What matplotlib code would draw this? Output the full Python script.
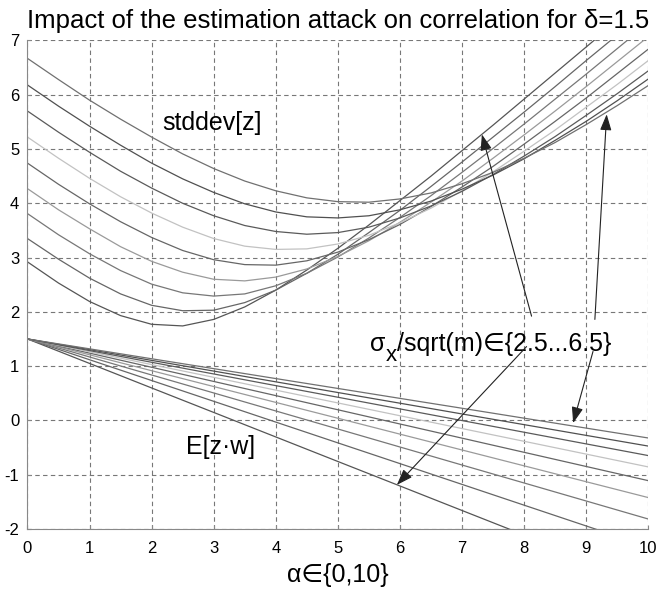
import matplotlib
matplotlib.use('Agg')
import matplotlib.pyplot as plt

plt.rcParams['font.family'] = ['Liberation Sans', 'DejaVu Sans']
plt.rcParams['axes.unicode_minus'] = False

# alpha grid for the stddev curves and for the correlation lines
alpha_sd = [0, 0.5, 1, 1.5, 2, 2.5, 3, 3.5, 4, 4.5, 5, 5.5, 6, 6.5, 7, 7.5, 8, 8.5, 9, 9.5, 10]
alpha_e = [0, 1, 2, 3, 4, 5, 6, 7, 8, 9, 10]

sigmas = [2.5, 3.0, 3.5, 4.0, 4.5, 5.0, 5.5, 6.0, 6.5]

# stddev[z] per sigma_x/sqrt(m)
sd_25 = [2.92, 2.53, 2.19, 1.93, 1.77, 1.74, 1.86, 2.09, 2.40, 2.77, 3.17, 3.60, 4.05, 4.50, 4.97, 5.44, 5.92, 6.40, 6.88, 7.36, 7.85]
sd_30 = [3.35, 2.97, 2.62, 2.33, 2.12, 2.02, 2.03, 2.17, 2.40, 2.71, 3.06, 3.46, 3.87, 4.31, 4.76, 5.22, 5.68, 6.15, 6.63, 7.10, 7.58]
sd_35 = [3.81, 3.42, 3.07, 2.76, 2.51, 2.35, 2.29, 2.33, 2.48, 2.71, 3.01, 3.36, 3.74, 4.14, 4.57, 5.01, 5.46, 5.92, 6.38, 6.85, 7.32]
sd_40 = [4.27, 3.88, 3.53, 3.20, 2.93, 2.73, 2.60, 2.57, 2.64, 2.79, 3.02, 3.31, 3.65, 4.02, 4.41, 4.83, 5.26, 5.70, 6.15, 6.61, 7.07]
sd_45 = [4.74, 4.35, 3.99, 3.66, 3.37, 3.13, 2.96, 2.87, 2.86, 2.94, 3.10, 3.33, 3.61, 3.94, 4.30, 4.68, 5.09, 5.51, 5.94, 6.39, 6.84]
sd_50 = [5.22, 4.83, 4.46, 4.12, 3.82, 3.56, 3.35, 3.21, 3.15, 3.16, 3.25, 3.41, 3.64, 3.91, 4.23, 4.58, 4.96, 5.35, 5.77, 6.19, 6.63]
sd_55 = [5.70, 5.31, 4.94, 4.59, 4.28, 4.00, 3.77, 3.59, 3.48, 3.43, 3.46, 3.56, 3.73, 3.95, 4.22, 4.53, 4.87, 5.23, 5.62, 6.02, 6.44]
sd_60 = [6.18, 5.79, 5.42, 5.07, 4.74, 4.45, 4.20, 3.99, 3.84, 3.75, 3.73, 3.77, 3.88, 4.04, 4.26, 4.52, 4.82, 5.16, 5.51, 5.89, 6.29]
sd_65 = [6.67, 6.28, 5.90, 5.55, 5.22, 4.91, 4.64, 4.41, 4.23, 4.10, 4.03, 4.02, 4.08, 4.19, 4.36, 4.57, 4.83, 5.12, 5.45, 5.80, 6.17]

# E[z.w] per sigma_x/sqrt(m)
e_25 = [1.5, 1.049, 0.597, 0.146, -0.306, -0.758, -1.209, -1.661, -2.112, -2.564, -3.015]
e_30 = [1.5, 1.117, 0.734, 0.351, -0.032, -0.415, -0.797, -1.180, -1.563, -1.946, -2.329]
e_35 = [1.5, 1.168, 0.836, 0.505, 0.173, -0.159, -0.491, -0.823, -1.154, -1.486, -1.818]
e_40 = [1.5, 1.208, 0.915, 0.623, 0.331, 0.039, -0.254, -0.546, -0.838, -1.131, -1.423]
e_45 = [1.5, 1.239, 0.978, 0.717, 0.456, 0.195, -0.067, -0.328, -0.589, -0.850, -1.111]
e_50 = [1.5, 1.264, 1.028, 0.793, 0.557, 0.321, 0.085, -0.151, -0.386, -0.622, -0.858]
e_55 = [1.5, 1.285, 1.070, 0.855, 0.640, 0.426, 0.211, -0.004, -0.219, -0.434, -0.649]
e_60 = [1.5, 1.303, 1.105, 0.908, 0.710, 0.513, 0.316, 0.118, -0.079, -0.277, -0.474]
e_65 = [1.5, 1.318, 1.135, 0.953, 0.770, 0.588, 0.405, 0.223, 0.040, -0.143, -0.325]

sd_curves = [sd_25, sd_30, sd_35, sd_40, sd_45, sd_50, sd_55, sd_60, sd_65]
e_curves = [e_25, e_30, e_35, e_40, e_45, e_50, e_55, e_60, e_65]
grays = ['#555555', '#666666', '#777777', '#9a9a9a', '#666666', '#c2c2c2', '#5a5a5a', '#505050', '#707070']

fig = plt.figure(figsize=(6.59, 5.91), dpi=100)
ax = fig.add_axes([0.0417, 0.1051, 0.942, 0.8264])

for sd, ev, c in zip(sd_curves, e_curves, grays):
    ax.plot(alpha_sd, sd, color=c, lw=0.9)
    ax.plot(alpha_e, ev, color=c, lw=0.9)

ax.set_xlim(0, 10)
ax.set_ylim(-2, 7)
ax.set_xticks(range(0, 11))
ax.set_yticks(range(-2, 8))
ax.grid(True, linestyle=(0, (4, 3)), color='#777777', linewidth=0.8)
for side in ['top', 'right']:
    ax.spines[side].set_visible(False)
for side in ['left', 'bottom']:
    ax.spines[side].set_color('#888888')
ax.tick_params(direction='in', length=3, color='#888888', labelsize=12)
ax.tick_params(axis='x', pad=9)
ax.tick_params(axis='y', pad=6)

ax.set_title('Impact of the estimation attack on correlation for δ=1.5', fontsize=18.5, pad=9)
ax.set_xlabel('α∈{0,10}', fontsize=18, labelpad=5)

ax.text(2.17, 5.35, 'stddev[z]', fontsize=18, ha='left', va='baseline')
ax.text(2.56, -0.62, 'E[z·w]', fontsize=18, ha='left', va='baseline')

# sigma_x/sqrt(m) label built from pieces so the subscript sits low like the original
t_sig = ax.text(5.52, 1.27, 'σ', fontsize=18, ha='left', va='baseline')
t_sub = ax.annotate('x', xy=(1, 0), xycoords=t_sig, xytext=(0, -7), textcoords='offset points',
                    fontsize=16, ha='left', va='bottom')
ax.annotate('/sqrt(m)∈{2.5...6.5}', xy=(1, 0), xycoords=(t_sub, t_sig), fontsize=18,
            ha='left', va='bottom')

arrow = dict(arrowstyle='-|>,head_length=0.7,head_width=0.25', color='#222222', lw=0.8,
             mutation_scale=14, shrinkA=0, shrinkB=0)
ax.annotate('', xy=(7.32, 5.27), xytext=(8.12, 1.92), arrowprops=arrow)
ax.annotate('', xy=(9.33, 5.64), xytext=(9.14, 1.86), arrowprops=arrow)
ax.annotate('', xy=(5.95, -1.19), xytext=(8.04, 1.36), arrowprops=arrow)
ax.annotate('', xy=(8.79, -0.05), xytext=(9.11, 1.27), arrowprops=arrow)

fig.savefig('out.png', dpi=100)
